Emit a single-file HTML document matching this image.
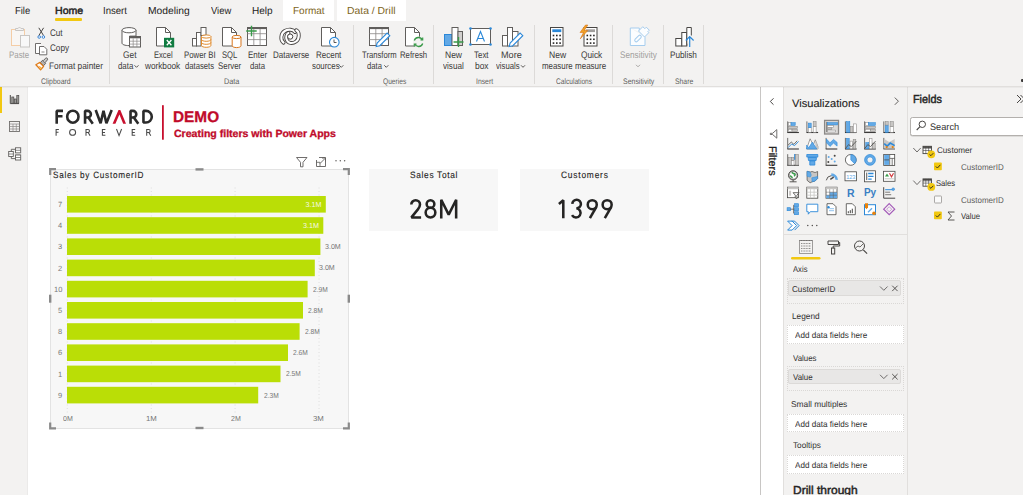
<!DOCTYPE html><html><head><meta charset="utf-8"><style>
*{margin:0;padding:0;box-sizing:border-box}
html,body{width:1023px;height:495px;overflow:hidden;background:#f3f2f1;font-family:"Liberation Sans",sans-serif}
.a{position:absolute}
.t{position:absolute;white-space:nowrap;transform-origin:0 0;font-family:"Liberation Sans",sans-serif;text-rendering:geometricPrecision}
svg{position:absolute;left:0;top:0}
.md{-webkit-text-stroke:0.12px currentColor}
.sb{-webkit-text-stroke:0.45px currentColor}
.md3{-webkit-text-stroke:0.3px currentColor}
</style></head><body><div class="a" style="left:283px;top:0px;width:51px;height:21px;background:#fff"></div><div class="a" style="left:337px;top:0px;width:68.5px;height:21px;background:#fff"></div><div class="a" style="left:55px;top:18px;width:27px;height:3px;background:#f2c811;border-radius:1px"></div><div class="a" style="left:109px;top:25px;width:1px;height:59px;background:#dcdad8"></div><div class="a" style="left:353px;top:25px;width:1px;height:59px;background:#dcdad8"></div><div class="a" style="left:433px;top:25px;width:1px;height:59px;background:#dcdad8"></div><div class="a" style="left:534px;top:25px;width:1px;height:59px;background:#dcdad8"></div><div class="a" style="left:612px;top:25px;width:1px;height:59px;background:#dcdad8"></div><div class="a" style="left:663px;top:25px;width:1px;height:59px;background:#dcdad8"></div><div class="a" style="left:703px;top:25px;width:1px;height:59px;background:#dcdad8"></div><div class="a" style="left:0px;top:86px;width:28px;height:409px;background:#f3f2f1"></div><div class="a" style="left:27px;top:87px;width:1px;height:408px;background:#ebeae9"></div><div class="a" style="left:0px;top:86px;width:2px;height:27px;background:#f2c811"></div><div class="a" style="left:28px;top:87px;width:732px;height:408px;background:#fff"></div><div class="a" style="left:760px;top:87px;width:1px;height:408px;background:#c8c6c4"></div><div class="a" style="left:761px;top:87px;width:22px;height:408px;background:#fff"></div><div class="a" style="left:783px;top:87px;width:124px;height:408px;background:#f3f2f1;border-left:1px solid #e1dfdd"></div><div class="a" style="left:907px;top:87px;width:116px;height:408px;background:#f3f2f1;border-left:1px solid #e1dfdd"></div><div class="a" style="left:0px;top:86px;width:1023px;height:1px;background:#e1dfdd"></div><div class="a" style="left:0px;top:87px;width:1023px;height:1px;background:rgba(0,0,0,0.035)"></div><div class="a" style="left:1020.5px;top:79.3px;width:3px;height:2.4px;background:#3b3a39;border-radius:1px"></div><div class="a" style="left:910.3px;top:117.2px;width:120px;height:18.5px;background:#fff;border:1px solid #b3b0ad;border-radius:2.5px;box-shadow:0 0.5px 0 #c8c6c4"></div><div class="a" style="left:50px;top:169px;width:299px;height:260px;background:#f7f7f7;border:1px solid #e3e3e3"></div><div class="a" style="left:369px;top:169px;width:129px;height:62px;background:#f7f7f7"></div><div class="a" style="left:520px;top:169px;width:129px;height:62px;background:#f7f7f7"></div><div class="a" style="left:786.5px;top:278px;width:117px;height:25.5px;border:1px dotted #dad8d6;background:#f3f2f1"></div><div class="a" style="left:788.3px;top:280.3px;width:112.7px;height:16.2px;background:#e8e7e6;border:1px solid #dcdad8;border-radius:2px"></div><div class="a" style="left:786.5px;top:325.3px;width:117px;height:19.2px;border:1px dotted #dad8d6;background:#fff"></div><div class="a" style="left:786.5px;top:366px;width:117px;height:25px;border:1px dotted #dad8d6;background:#f3f2f1"></div><div class="a" style="left:788.3px;top:369.3px;width:112.7px;height:15.1px;background:#e8e7e6;border:1px solid #dcdad8;border-radius:2px"></div><div class="a" style="left:786.5px;top:413.8px;width:117px;height:18.6px;border:1px dotted #dad8d6;background:#fff"></div><div class="a" style="left:786.5px;top:454.7px;width:117px;height:19.1px;border:1px dotted #dad8d6;background:#fff"></div><svg width="1023" height="495" viewBox="0 0 1023 495"><rect x="11.5" y="29.5" width="13" height="16" fill="#f8f6f4" stroke="#f4cda6"/><path d="M15.5 30.5 v-2 h2.5 a1.6 1.6 0 0 1 3 0 h2.5 v2 z" fill="#f3f2f1" stroke="#c8c6c4"/><rect x="20.5" y="35.5" width="9" height="11.5" fill="#f8f8f8" stroke="#c8c6c4"/><path d="M38.8 27.8 L43.6 35.6 M43.6 27.8 L38.8 35.6" stroke="#484644" stroke-width="1"/><circle cx="39.2" cy="37" r="1.3" fill="#fff" stroke="#2b7cd3" stroke-width="0.9"/><circle cx="43.4" cy="37" r="1.3" fill="#fff" stroke="#2b7cd3" stroke-width="0.9"/><path d="M41 43.5 h-5.5 v10 h4" fill="#fff" stroke="#605e5c" stroke-width="0.9"/><path d="M39.5 46.5 h4.5 l2.8 2.8 v5.5 h-7.3z" fill="#fff" stroke="#605e5c" stroke-width="0.9"/><path d="M41.5 52 h3" stroke="#8a8886"/><path d="M40.2 62.6 L42.6 60.3 L45.6 63.4 L43.5 65.8 Z" fill="#b3b0ad" stroke="#484644" stroke-width="0.8"/><path d="M43.2 60.6 L45.6 58.3 A1.2 1.2 0 0 1 47.3 60.0 L45.1 62.7" fill="#c8c6c4" stroke="#484644" stroke-width="0.8"/><path d="M35.9 64.8 L39.6 62.5 L43.6 66.4 L40.6 69.8 Z" fill="#fff" stroke="#e07b18" stroke-width="1.3" stroke-linejoin="round"/><path d="M38.2 65.5 L41.6 67.2 L40.4 68.8 Z" fill="#f3a64a"/><circle cx="40.5" cy="68.4" r="0.8" fill="#f7c948"/><path d="M122 30.2 v12.8 c0 1.6 3 2.6 7 2.6 h0.5 v-9.5 h6.5 v-5.9" fill="#fff" stroke="#605e5c"/><ellipse cx="129" cy="30.2" rx="7" ry="2.6" fill="#fff" stroke="#605e5c"/><rect x="129.5" y="36.5" width="11" height="10.5" fill="#fff" stroke="#605e5c"/><rect x="129.5" y="36.5" width="11" height="1.8" fill="#605e5c"/><path d="M133.2 38.3 v8.7 M136.9 38.3 v8.7 M129.5 41.2 h11 M129.5 44.1 h11" stroke="#8a8886" stroke-width="0.7"/><path d="M156.5 27.5 h9 l5 5 v13.5 h-14z" fill="#fff" stroke="#605e5c"/><path d="M165.5 27.5 v5 h5" fill="none" stroke="#605e5c"/><rect x="164" y="37.8" width="10.2" height="9.6" fill="#107c41"/><path d="M166.8 40 l4.6 5.2 M171.4 40 l-4.6 5.2" stroke="#fff" stroke-width="1.3"/><rect x="192.5" y="38.5" width="4" height="7.5" fill="#fff" stroke="#605e5c"/><rect x="196.5" y="32.5" width="4.5" height="13.5" fill="#fff" stroke="#605e5c"/><rect x="201" y="27.5" width="5" height="8" fill="#fff" stroke="#605e5c"/><path d="M201.5 36.5 v9 c0 1 2 1.8 4.7 1.8 s4.7 -0.8 4.7 -1.8 v-9" fill="#fff" stroke="#e08a2c"/><ellipse cx="206.2" cy="36.5" rx="4.7" ry="1.6" fill="#fff" stroke="#e08a2c"/><path d="M201.5 39.5 c0 1 2 1.8 4.7 1.8 s4.7 -0.8 4.7 -1.8 M201.5 42.5 c0 1 2 1.8 4.7 1.8 s4.7 -0.8 4.7 -1.8" fill="none" stroke="#e08a2c"/><path d="M222.5 27.5 h9 l5 5 v13.5 h-14z" fill="#fff" stroke="#605e5c"/><path d="M231.5 27.5 v5 h5" fill="none" stroke="#605e5c"/><path d="M232.2 37 v8.8 c0 1 2 1.8 4.4 1.8 s4.4 -0.8 4.4 -1.8 v-8.8" fill="#fff" stroke="#d9761c"/><ellipse cx="236.6" cy="37" rx="4.4" ry="1.6" fill="#fff" stroke="#d9761c"/><rect x="247.5" y="27.5" width="19" height="18" fill="#fff" stroke="#605e5c"/><rect x="247.5" y="27.5" width="19" height="1.6" fill="#605e5c"/><path d="M253.8 29 v16.5 M260.1 29 v16.5 M247.5 33.7 h19 M247.5 39.6 h19" stroke="#8a8886" stroke-width="0.8"/><path d="M246.2 31 h10.5 M251.5 25.8 v10.5" stroke="#3a9a4a" stroke-width="1.4"/><path d="M283.6 42.6 C280.2 40 280.6 33.6 284.8 31 C288.5 28.8 293 29.5 295 32" fill="none" stroke="#484644" stroke-width="3.9" stroke-linecap="round"/><path d="M283.6 42.6 C280.2 40 280.6 33.6 284.8 31 C288.5 28.8 293 29.5 295 32" fill="none" stroke="#fff" stroke-width="2.1" stroke-linecap="round"/><path d="M296.3 30.3 C299.8 32 299.5 39 296 41.5 C292.5 44 287.8 43.5 286.6 39.5 C285.8 37 286.5 34 288.5 33" fill="none" stroke="#484644" stroke-width="3.9" stroke-linecap="round"/><path d="M296.3 30.3 C299.8 32 299.5 39 296 41.5 C292.5 44 287.8 43.5 286.6 39.5 C285.8 37 286.5 34 288.5 33" fill="none" stroke="#fff" stroke-width="2.1" stroke-linecap="round"/><circle cx="290.2" cy="36.6" r="2.6" fill="#fff" stroke="#484644" stroke-width="1"/><path d="M321.5 27.5 h9 l5 5 v13.5 h-14z" fill="#fff" stroke="#605e5c"/><path d="M330.5 27.5 v5 h5" fill="none" stroke="#605e5c"/><circle cx="334.3" cy="42.2" r="4.8" fill="#fff" stroke="#2b88d8" stroke-width="1.1"/><path d="M334 39.5 v3 h2.5" fill="none" stroke="#484644" stroke-width="0.9"/><rect x="369.5" y="27.5" width="19" height="18" fill="#fff" stroke="#605e5c"/><rect x="369.5" y="27.5" width="19" height="1.6" fill="#605e5c"/><path d="M375.8 29 v16.5 M382.1 29 v16.5 M369.5 33.7 h19 M369.5 39.6 h19" stroke="#8a8886" stroke-width="0.8"/><path d="M376.2 46.6 l0.9 -3.6 l10 -10 l2.7 2.7 l-10 10 z" fill="#fff" stroke="#2b88d8" stroke-width="1.1"/><path d="M405.5 27.5 h9 l5 5 v13.5 h-14z" fill="#fff" stroke="#605e5c"/><path d="M414.5 27.5 v5 h5" fill="none" stroke="#605e5c"/><circle cx="418.5" cy="42" r="5.5" fill="#f3f2f1" stroke="none"/><path d="M414.3 40.5 a4.3 4.3 0 0 1 8 -0.5 M422.7 43.5 a4.3 4.3 0 0 1 -8 0.5" fill="none" stroke="#3a9a4a" stroke-width="1.3"/><path d="M420.5 39.8 h2.2 v-2.2 M416.5 44.2 h-2.2 v2.2" fill="none" stroke="#3a9a4a" stroke-width="1.2"/><rect x="444.5" y="34.5" width="7.5" height="11" fill="#62a9e6" stroke="#2b88d8"/><rect x="452" y="27.5" width="6" height="18" fill="#fff" stroke="#605e5c"/><rect x="458" y="31.5" width="4.5" height="14" fill="#d2d0ce" stroke="#605e5c"/><path d="M453.5 42 h10 M458.5 37 v10" stroke="#3a9a4a" stroke-width="1.4"/><rect x="470.5" y="28.5" width="20" height="16" fill="#fff" stroke="#605e5c"/><circle cx="470.5" cy="28.5" r="1.3" fill="#2b88d8"/><circle cx="490.5" cy="28.5" r="1.3" fill="#2b88d8"/><circle cx="470.5" cy="44.5" r="1.3" fill="#2b88d8"/><circle cx="490.5" cy="44.5" r="1.3" fill="#2b88d8"/><path d="M476.5 41.5 l4 -10 l4 10 M477.8 38.5 h5.4" fill="none" stroke="#2b88d8" stroke-width="1.1"/><rect x="502.5" y="35.5" width="5" height="10.5" fill="#fff" stroke="#605e5c"/><rect x="507.5" y="27.5" width="5" height="18.5" fill="#fff" stroke="#605e5c"/><rect x="512.5" y="31.5" width="5.5" height="14.5" fill="#fff" stroke="#605e5c"/><path d="M509.2 46.6 l0.9 -3.6 l10 -10 l2.7 2.7 l-10 10 z" fill="#fff" stroke="#2b88d8" stroke-width="1.1"/><rect x="550.5" y="27.5" width="12.5" height="18.5" fill="#fff" stroke="#484644"/><rect x="552.3" y="29.3" width="9" height="2.8" fill="#2b88d8"/><rect x="552.7" y="34.7" width="1.6" height="1.6" fill="#252423"/><rect x="556.0" y="34.7" width="1.6" height="1.6" fill="#252423"/><rect x="559.3000000000001" y="34.7" width="1.6" height="1.6" fill="#252423"/><rect x="552.7" y="38.5" width="1.6" height="1.6" fill="#252423"/><rect x="556.0" y="38.5" width="1.6" height="1.6" fill="#252423"/><rect x="559.3000000000001" y="38.5" width="1.6" height="1.6" fill="#252423"/><rect x="552.7" y="42.300000000000004" width="1.6" height="1.6" fill="#252423"/><rect x="556.0" y="42.300000000000004" width="1.6" height="1.6" fill="#252423"/><rect x="559.3000000000001" y="42.300000000000004" width="1.6" height="1.6" fill="#252423"/><rect x="584" y="27.5" width="13" height="18.5" fill="#fff" stroke="#484644"/><rect x="586" y="29.3" width="9" height="2.8" fill="#a19f9d"/><rect x="586.5" y="34.7" width="1.6" height="1.6" fill="#252423"/><rect x="589.8000000000001" y="34.7" width="1.6" height="1.6" fill="#252423"/><rect x="593.1" y="34.7" width="1.6" height="1.6" fill="#252423"/><rect x="586.5" y="38.5" width="1.6" height="1.6" fill="#252423"/><rect x="589.8000000000001" y="38.5" width="1.6" height="1.6" fill="#252423"/><rect x="593.1" y="38.5" width="1.6" height="1.6" fill="#252423"/><rect x="586.5" y="42.300000000000004" width="1.6" height="1.6" fill="#252423"/><rect x="589.8000000000001" y="42.300000000000004" width="1.6" height="1.6" fill="#252423"/><rect x="593.1" y="42.300000000000004" width="1.6" height="1.6" fill="#252423"/><path d="M585.5 25 l-5.5 7.5 h3.5 l-3.2 6.3 l7.5 -8.3 h-3.5 l3.5 -5.5 z" fill="#f2a125" stroke="#d9761c" stroke-width="0.6"/><path d="M630.3 28 h9 v4 M645 37 v8.5 h-14.7 v-17.5" fill="#fbfdff" stroke="#a6cdee"/><rect x="634" y="37" width="8" height="3" rx="1.5" transform="rotate(-45 638 38.5)" fill="none" stroke="#a6cdee"/><path d="M638.5 31 l4.3-4.3 l2 2 l1.5-1.5 l3 3 l-1.5 1.5 l1 1 l-4.3 4.3 z" fill="#fbfdff" stroke="#a6cdee"/><rect x="675.8" y="38.5" width="6" height="7.5" fill="#fff" stroke="#484644"/><rect x="681.8" y="32.5" width="5" height="13.5" fill="#fff" stroke="#484644"/><path d="M686.8 45.5 v-18 h4.5 v8" fill="#fff" stroke="#484644"/><path d="M689.7 47 V36.8 M685.8 40.5 L689.7 36.6 L693.6 40.5" fill="none" stroke="#2b88d8" stroke-width="1.2"/><path d="M134.5 65.3 l2 2 l2 -2" fill="none" stroke="#484644" stroke-width="0.9"/><path d="M339.3 65.3 l2 2 l2 -2" fill="none" stroke="#484644" stroke-width="0.9"/><path d="M384.3 65.3 l2 2 l2 -2" fill="none" stroke="#484644" stroke-width="0.9"/><path d="M521 65.3 l2 2 l2 -2" fill="none" stroke="#484644" stroke-width="0.9"/><path d="M636 64.8 l2 2 l2 -2" fill="none" stroke="#a19f9d" stroke-width="0.9"/><path d="M10.3 95 V103.6 H19" fill="none" stroke="#484644" stroke-width="1"/><rect x="11.8" y="97" width="2" height="6.2" fill="#a19f9d" stroke="#484644" stroke-width="0.7"/><rect x="14.3" y="99" width="2" height="4.2" fill="#a19f9d" stroke="#484644" stroke-width="0.7"/><rect x="16.8" y="95.6" width="2" height="7.6" fill="#a19f9d" stroke="#484644" stroke-width="0.7"/><rect x="9.5" y="121.5" width="10" height="10" fill="none" stroke="#6f6d6b" stroke-width="0.9"/><path d="M9.5 124 h10 M9.5 126.5 h10 M9.5 129 h10 M13 124 v7.5 M16.3 124 v7.5" stroke="#8a8886" stroke-width="0.7"/><rect x="8.7" y="151.5" width="4.6" height="5" fill="#fff" stroke="#605e5c" stroke-width="0.9"/><path d="M8.7 154 h4.6" stroke="#605e5c" stroke-width="0.7"/><path d="M11.3 151.5 V149.3 H15.3 M11.3 156.5 V158.6 H15.3" fill="none" stroke="#605e5c" stroke-width="0.9"/><rect x="15.5" y="147.8" width="5.2" height="5" fill="#fff" stroke="#605e5c" stroke-width="0.9"/><path d="M15.5 150.3 h5.2" stroke="#605e5c" stroke-width="0.7"/><rect x="15.5" y="152.8" width="5.2" height="2.2" fill="#c8c6c4"/><rect x="15.5" y="155" width="5.2" height="5" fill="#fff" stroke="#605e5c" stroke-width="0.9"/><path d="M15.5 157.5 h5.2" stroke="#605e5c" stroke-width="0.7"/><rect x="824.6" y="120.4" width="13.9" height="13.6" fill="#dcdad8" stroke="#8a8886" stroke-width="1.3"/><g transform="translate(787.1 121.1)"><path d="M0.6 0.3 V11.4" stroke="#605e5c" stroke-width="0.9"/><path d="M0.2 11.4 H11.8" stroke="#3b3a39" stroke-width="1.1"/><rect x="1.3" y="1.6" width="2.6" height="2.8" fill="#ffffff" stroke="#8a8886" stroke-width="0.55"/><rect x="3.9" y="1.6" width="4.2" height="2.8" fill="#62a9e6" stroke="#2b88d8" stroke-width="0.55"/><rect x="1.3" y="5.2" width="8.9" height="2.4" fill="#c8c6c4" stroke="#8a8886" stroke-width="0.55"/><rect x="1.3" y="8.3" width="3.6" height="2.3" fill="#ffffff" stroke="#8a8886" stroke-width="0.55"/><rect x="4.9" y="8.3" width="5.3" height="2.3" fill="#c8c6c4" stroke="#8a8886" stroke-width="0.55"/></g><g transform="translate(806.3 121.1)"><path d="M0.6 0.3 V11.4" stroke="#605e5c" stroke-width="0.9"/><path d="M0.2 11.4 H11.8" stroke="#3b3a39" stroke-width="1.1"/><rect x="2.0" y="6.6" width="2.9" height="4.6" fill="#ffffff" stroke="#8a8886" stroke-width="0.55"/><rect x="2.0" y="2.0" width="2.9" height="4.6" fill="#62a9e6" stroke="#2b88d8" stroke-width="0.55"/><rect x="6.9" y="5.2" width="2.9" height="6.0" fill="#ffffff" stroke="#8a8886" stroke-width="0.55"/><rect x="6.9" y="0.6" width="2.9" height="4.6" fill="#c8c6c4" stroke="#8a8886" stroke-width="0.55"/></g><g transform="translate(825.5 121.1)"><path d="M1.2 0.8 V11" stroke="#605e5c" stroke-width="0.8"/><rect x="1.8" y="1.6" width="10.3" height="2.2" fill="#62a9e6" stroke="#2b88d8" stroke-width="0.55"/><rect x="1.8" y="4.5" width="6" height="2.0" fill="#ffffff" stroke="#8a8886" stroke-width="0.55"/><rect x="1.8" y="6.8" width="4.5" height="1.8" fill="#c8c6c4" stroke="#8a8886" stroke-width="0.55"/><rect x="1.8" y="9.0" width="8" height="1.9" fill="#ffffff" stroke="#8a8886" stroke-width="0.55"/></g><g transform="translate(844.8 121.1)"><path d="M0.6 0.3 V11.4" stroke="#605e5c" stroke-width="0.9"/><path d="M0.2 11.4 H11.8" stroke="#3b3a39" stroke-width="1.1"/><rect x="1.8" y="0.6" width="3.2" height="10.6" fill="#62a9e6" stroke="#2b88d8" stroke-width="0.55"/><rect x="5.6" y="5.5" width="2.5" height="5.7" fill="#c8c6c4" stroke="#8a8886" stroke-width="0.55"/><rect x="8.8" y="2.8" width="2.8" height="8.4" fill="#ffffff" stroke="#8a8886" stroke-width="0.55"/></g><g transform="translate(864.0 121.1)"><path d="M0.6 0.3 V11.4" stroke="#605e5c" stroke-width="0.9"/><path d="M0.2 11.4 H11.8" stroke="#3b3a39" stroke-width="1.1"/><rect x="1.3" y="1.6" width="3.2" height="2.8" fill="#ffffff" stroke="#8a8886" stroke-width="0.55"/><rect x="4.5" y="1.6" width="6.8" height="2.8" fill="#62a9e6" stroke="#2b88d8" stroke-width="0.55"/><rect x="1.3" y="5.2" width="10" height="2.4" fill="#c8c6c4" stroke="#8a8886" stroke-width="0.55"/><rect x="1.3" y="8.3" width="5" height="2.3" fill="#ffffff" stroke="#8a8886" stroke-width="0.55"/><rect x="6.3" y="8.3" width="5" height="2.3" fill="#c8c6c4" stroke="#8a8886" stroke-width="0.55"/></g><g transform="translate(883.2 121.1)"><path d="M0.6 0.3 V11.4" stroke="#605e5c" stroke-width="0.9"/><path d="M0.2 11.4 H11.8" stroke="#3b3a39" stroke-width="1.1"/><rect x="2.0" y="4.0" width="3.0" height="7.2" fill="#62a9e6" stroke="#2b88d8" stroke-width="0.55"/><rect x="2.0" y="0.6" width="3.0" height="3.4" fill="#c8c6c4" stroke="#8a8886" stroke-width="0.55"/><rect x="6.9" y="5.5" width="3.2" height="5.7" fill="#ffffff" stroke="#8a8886" stroke-width="0.55"/><rect x="6.9" y="0.6" width="3.2" height="4.9" fill="#c8c6c4" stroke="#8a8886" stroke-width="0.55"/></g><g transform="translate(787.1 137.6)"><path d="M0.6 0.3 V11.4" stroke="#605e5c" stroke-width="0.9"/><path d="M0.2 11.4 H11.8" stroke="#3b3a39" stroke-width="1.1"/><path d="M1 7.5 L4.2 4.5 L6.8 6.8 L10 3.2" fill="none" stroke="#484644" stroke-width="0.8"/><path d="M1 10 L4.5 6.5 L7.5 8 L11.5 3.8" fill="none" stroke="#2b88d8" stroke-width="0.9"/></g><g transform="translate(806.3 137.6)"><path d="M0.3 11.4 L3.8 1.2 L7 7.5 L9 2.2 L11.6 9 V11.4z" fill="#fff" stroke="#605e5c" stroke-width="0.6"/><path d="M9 2.2 L11.6 9 V11.4 H9z" fill="#c8c6c4"/><path d="M0.3 7.5 L2.5 10 L6 4.5 L10.5 11.4 H0.3z" fill="#62a9e6" stroke="#2b88d8" stroke-width="0.6"/></g><g transform="translate(825.5 137.6)"><path d="M0.6 0.3 V11.4" stroke="#605e5c" stroke-width="0.9"/><path d="M0.2 11.4 H11.8" stroke="#3b3a39" stroke-width="1.1"/><path d="M1 1.5 L4.5 5.2 L8 1.8 L11.6 4.8 V8.5 L8 5.5 L4.5 8.8 L1 5.2z" fill="#62a9e6" stroke="#2b88d8" stroke-width="0.6"/></g><g transform="translate(844.8 137.6)"><path d="M0.6 0.3 V11.4" stroke="#605e5c" stroke-width="0.9"/><path d="M0.2 11.4 H11.8" stroke="#3b3a39" stroke-width="1.1"/><rect x="1.8" y="0.8" width="2.6" height="10.4" fill="#62a9e6" stroke="#2b88d8" stroke-width="0.55"/><rect x="5.2" y="3.5" width="2.4" height="7.7" fill="#ffffff" stroke="#8a8886" stroke-width="0.55"/><rect x="8.4" y="2.0" width="2.6" height="9.2" fill="#c8c6c4" stroke="#8a8886" stroke-width="0.55"/><path d="M1 10.5 L3.8 7 L6.5 9 L11.6 3.5" fill="none" stroke="#484644" stroke-width="0.8"/></g><g transform="translate(864.0 137.6)"><path d="M0.6 0.3 V11.4" stroke="#605e5c" stroke-width="0.9"/><path d="M0.2 11.4 H11.8" stroke="#3b3a39" stroke-width="1.1"/><rect x="1.8" y="5.0" width="3" height="6.2" fill="#62a9e6" stroke="#2b88d8" stroke-width="0.55"/><rect x="5.4" y="0.8" width="2.6" height="10.4" fill="#ffffff" stroke="#8a8886" stroke-width="0.55"/><rect x="8.6" y="5.5" width="2.6" height="5.7" fill="#c8c6c4" stroke="#8a8886" stroke-width="0.55"/><path d="M1 10.5 L3.8 7 L6.5 9 L11.6 3.5" fill="none" stroke="#484644" stroke-width="0.8"/></g><g transform="translate(883.2 137.6)"><path d="M0.6 0.3 V11.4" stroke="#605e5c" stroke-width="0.9"/><path d="M0.2 11.4 H11.8" stroke="#605e5c" stroke-width="1.1"/><path d="M1 1.5 L6 4.5 L11.5 1.5 V10.5 H1z" fill="#c8c6c4"/><path d="M1 6 L4 8.5 L7 5.5 L11.5 8" fill="none" stroke="#2b88d8" stroke-width="1.6"/><circle cx="3.5" cy="9.5" r="1.1" fill="#e8820c"/><circle cx="9.5" cy="9.5" r="1.1" fill="#e8820c"/></g><g transform="translate(787.1 153.9)"><path d="M0.6 0.3 V11.4" stroke="#605e5c" stroke-width="0.9"/><path d="M0.2 11.4 H11.8" stroke="#3b3a39" stroke-width="1.1"/><rect x="1.5" y="3.5" width="2.8" height="7.7" fill="#c8c6c4" stroke="#8a8886" stroke-width="0.55"/><rect x="4.3" y="6.5" width="2.6" height="4.7" fill="#ffffff" stroke="#8a8886" stroke-width="0.55"/><rect x="4.3" y="3.5" width="2.6" height="3.0" fill="#c8c6c4" stroke="#8a8886" stroke-width="0.55"/><rect x="7.3" y="0.6" width="1.0" height="5" fill="#2b88d8" stroke="#2b88d8" stroke-width="0.55"/><rect x="8.3" y="0.6" width="3" height="10.6" fill="#c8c6c4" stroke="#8a8886" stroke-width="0.55"/></g><g transform="translate(806.3 153.9)"><path d="M0.5 0.6 h11 v2.6 h-11z M1.8 3.6 h8.4 l-0.4 3 h-7.6z M3.5 7 h5 v4.2 h-5z" fill="#62a9e6" stroke="#2b88d8" stroke-width="0.8"/></g><g transform="translate(825.5 153.9)"><path d="M0.6 0.3 V11.4" stroke="#605e5c" stroke-width="0.9"/><path d="M0.2 11.4 H11.8" stroke="#3b3a39" stroke-width="1.1"/><circle cx="2.8" cy="8.2" r="1.0" fill="#484644"/><circle cx="3.2" cy="3" r="1.0" fill="#62a9e6"/><circle cx="6.2" cy="5.2" r="1.0" fill="#62a9e6"/><circle cx="9.2" cy="7.6" r="1.0" fill="#62a9e6"/><circle cx="9.2" cy="1.8" r="1.0" fill="#484644"/></g><g transform="translate(844.8 153.9)"><circle cx="6" cy="6" r="5.4" fill="#fff" stroke="#484644" stroke-width="0.8"/><path d="M6 0.6 A5.4 5.4 0 0 1 9.8 9.8 L6 6z" fill="#62a9e6" stroke="#2b88d8" stroke-width="0.6"/></g><g transform="translate(864.0 153.9)"><circle cx="6" cy="6" r="4.2" fill="none" stroke="#62a9e6" stroke-width="2.4"/><circle cx="6" cy="6" r="5.4" fill="none" stroke="#2b88d8" stroke-width="0.7"/><circle cx="6" cy="6" r="3" fill="none" stroke="#2b88d8" stroke-width="0.6"/></g><g transform="translate(883.2 153.9)"><rect x="0.5" y="0.5" width="11" height="11" fill="#fff" stroke="#484644" stroke-width="0.8"/><rect x="1" y="1" width="5" height="10" fill="#62a9e6"/><path d="M1 6 h5 M6.5 1 v10 M6.5 4.5 h5 M9 4.5 v7" stroke="#484644" stroke-width="0.7"/></g><g transform="translate(787.1 170.3)"><circle cx="6" cy="5" r="4.6" fill="#b0aeac" stroke="#484644" stroke-width="0.9"/><circle cx="6" cy="5" r="3.2" fill="#fff"/><path d="M4.5 2.2 c1.5 0.2 1.8 1.5 2.8 1.3 s1 1.8 -0.5 2.2 M3 5.5 c1 0.3 1.5 1.5 2.5 2" fill="none" stroke="#3a9a4a" stroke-width="1.5"/><path d="M2.5 11.5 h7 M6 9.6 v1.9" stroke="#484644" stroke-width="0.9"/></g><g transform="translate(806.3 170.3)"><path d="M0.8 1 l3 0.8 l2 -0.6 l3 1 l2.5 -1 v7 l-2.5 2.5 l-3 0.8 l-2 1 l-3 -2.5z" fill="#c8c6c4" stroke="#484644" stroke-width="0.7"/><path d="M0.8 1 l3 0.8 l1.2 3 l-1 2 l-3.2 -0.8z M5.5 7.5 l5.8 -1.3 v2 l-2.5 2.5 l-3 0.8z" fill="#62a9e6" stroke="#2b88d8" stroke-width="0.5"/></g><g transform="translate(825.5 170.3)"><path d="M0.8 10 A5.5 5.5 0 0 1 11.4 9" fill="none" stroke="#484644" stroke-width="0.9"/><path d="M5.8 4.3 A5.5 5.5 0 0 1 11.2 9.5" fill="none" stroke="#62a9e6" stroke-width="2.6"/><path d="M4.8 9 L8.2 6.8" stroke="#484644" stroke-width="1.4"/></g><g transform="translate(844.8 170.3)"><rect x="0.2" y="1.5" width="11.6" height="9" fill="#fff" stroke="#484644" stroke-width="0.8"/><text x="6" y="8.6" font-size="5.6" font-family="Liberation Sans" text-anchor="middle" fill="#62a9e6">123</text></g><g transform="translate(864.0 170.3)"><rect x="0.5" y="0.5" width="11" height="11" fill="#fff" stroke="#484644" stroke-width="0.8"/><rect x="2.3" y="2.3" width="0.9" height="7.5" fill="#484644"/><path d="M4.2 3.2 h5.3 M4.2 6 h5.3 M4.2 8.8 h3.5" stroke="#2b88d8" stroke-width="1.3"/></g><g transform="translate(883.2 170.3)"><rect x="0.2" y="1" width="11.6" height="10" fill="#fff" stroke="#484644" stroke-width="0.8"/><path d="M1.8 6.2 l2 -3 l2 3z" fill="#3a9a4a"/><path d="M6.3 3 l2 3.5 l2 -3.5" fill="none" stroke="#d13438" stroke-width="1.1"/><path d="M1.5 8.5 h9" stroke="#c8c6c4"/></g><g transform="translate(787.1 186.7)"><rect x="0.5" y="0.5" width="11" height="10.5" fill="#fff" stroke="#484644" stroke-width="0.8"/><rect x="0.5" y="0.5" width="11" height="2" fill="#c8c6c4"/><rect x="2" y="4" width="2" height="5" fill="#c8c6c4"/><path d="M6 6 h6 l-2.2 2.5 v3.5 l-1.6 -0.8 v-2.7z" fill="#fff" stroke="#484644" stroke-width="0.8"/></g><g transform="translate(806.3 186.7)"><rect x="0.5" y="0.5" width="11" height="11" fill="#fff" stroke="#484644" stroke-width="0.8"/><rect x="0.5" y="0.5" width="11" height="2" fill="#c8c6c4"/><path d="M4.2 2.5 v9 M7.8 2.5 v9 M0.5 5.5 h11 M0.5 8.5 h11" stroke="#c8c6c4" stroke-width="0.8"/></g><g transform="translate(825.5 186.7)"><rect x="0.5" y="0.5" width="11" height="11" fill="#fff" stroke="#484644" stroke-width="0.8"/><rect x="0.5" y="0.5" width="11" height="2" fill="#c8c6c4"/><rect x="4.2" y="5.5" width="7.3" height="6" fill="#62a9e6"/><rect x="0.8" y="8.5" width="3.4" height="3" fill="#62a9e6"/><path d="M4.2 2.5 v9 M7.8 2.5 v9 M0.5 5.5 h11 M0.5 8.5 h11" stroke="#605e5c" stroke-width="0.5"/></g><g transform="translate(844.8 186.7)"><text x="6" y="10.5" font-size="10.5" font-weight="700" font-family="Liberation Sans" text-anchor="middle" fill="#3a7fc4">R</text></g><g transform="translate(864.0 186.7)"><text x="6" y="9.5" font-size="10" font-weight="700" font-family="Liberation Sans" text-anchor="middle" fill="#3a7fc4">Py</text></g><g transform="translate(883.2 186.7)"><path d="M0.5 0.5 V11.5 H12" fill="none" stroke="#484644"/><path d="M2 3 h7" stroke="#2b88d8"/><circle cx="10" cy="2.5" r="1.3" fill="#62a9e6" stroke="#2b88d8" stroke-width="0.6"/><path d="M2 5.5 h5 M2 8 h6" stroke="#484644" stroke-width="0.7"/></g><g transform="translate(787.1 203.2)"><rect x="0" y="4.5" width="3.5" height="3" fill="#62a9e6" stroke="#2b88d8" stroke-width="0.6"/><path d="M3.5 6 h3 M6.5 2 v8 M6.5 2 h1 M6.5 6 h1 M6.5 10 h1" stroke="#484644" stroke-width="0.7"/><rect x="7.5" y="0.5" width="4" height="3" fill="#62a9e6" stroke="#2b88d8" stroke-width="0.6"/><rect x="7.5" y="4.5" width="4" height="3" fill="#62a9e6" stroke="#2b88d8" stroke-width="0.6"/><rect x="7.5" y="8.5" width="4" height="3" fill="#62a9e6" stroke="#2b88d8" stroke-width="0.6"/></g><g transform="translate(806.3 203.2)"><path d="M0.5 1 h11 v7.5 h-7.5 l-2 2.5 v-2.5 h-1.5z" fill="#fff" stroke="#2b88d8" stroke-width="0.9"/></g><g transform="translate(825.5 203.2)"><path d="M1.5 0.5 h6 l3 3 v8 h-9z" fill="#fff" stroke="#484644" stroke-width="0.8"/><circle cx="3" cy="4" r="1.2" fill="#2b88d8"/><path d="M4 5.5 h4.5 M3.5 7.5 h5" stroke="#62a9e6" stroke-width="0.7"/></g><g transform="translate(844.8 203.2)"><path d="M1.5 0.5 h6 l3 3 v8 h-9z" fill="#fff" stroke="#484644" stroke-width="0.8"/><path d="M3.5 10 v-2 M5.5 10 v-3 M7.5 10 v-4.5" stroke="#484644" stroke-width="1"/></g><g transform="translate(864.0 203.2)"><rect x="0.5" y="1.5" width="11" height="10" fill="#fff" stroke="#2b88d8" stroke-width="1"/><path d="M1 0 h3 v4 l-1.5 2 l-1.5 -2z" fill="#e8820c"/><circle cx="10" cy="10" r="1.8" fill="#e8820c"/><path d="M4 9 l4 -4" stroke="#62a9e6" stroke-width="1.3"/></g><g transform="translate(883.2 203.2)"><path d="M6 0.5 L11.5 6 L6 11.5 L0.5 6z" fill="none" stroke="#a35ab8" stroke-width="1.2"/><path d="M6 3.5 L8.5 6 L6 8.5 L3.5 6z" fill="none" stroke="#c490d1" stroke-width="0.9"/></g><g transform="translate(787.1 219.6)"><path d="M0.5 1.5 h4.5 l4.5 4.5 l-4.5 4.5 h-4.5 l4.5 -4.5z" fill="#fff" stroke="#2b88d8" stroke-width="1"/><path d="M4.5 1.5 h3 l4.5 4.5 l-4.5 4.5" fill="none" stroke="#2b88d8" stroke-width="1"/></g><circle cx="807.8" cy="225.5" r="0.7" fill="#484644"/><circle cx="812.3" cy="225.5" r="0.7" fill="#484644"/><circle cx="816.8" cy="225.5" r="0.7" fill="#484644"/><path d="M784 234.5 H907" stroke="#e1dfdd"/><rect x="799.5" y="240.5" width="13" height="13" fill="none" stroke="#484644" stroke-dasharray="1 1"/><path d="M799.5 240.5 h13 M801 243.5 h10 M801 246 h10 M801 248.5 h10 M801 251 h10" stroke="#484644" stroke-width="0.6" stroke-dasharray="1 0.6"/><path d="M792.3 258.2 H819.2" stroke="#f2c811" stroke-width="2.6" stroke-linecap="round"/><path d="M828 241 h10.5 v3.5 h-10.5z M838.5 242.5 h1.2 v3.5 h-6.5 v2.5" fill="none" stroke="#484644" stroke-width="1"/><rect x="831.5" y="248" width="3.2" height="6" fill="none" stroke="#484644" stroke-width="1"/><circle cx="859.5" cy="246" r="5" fill="none" stroke="#484644" stroke-width="1"/><path d="M855.5 248 l2.5 -2 l2 1 l3 -3" fill="none" stroke="#484644" stroke-width="0.8"/><path d="M863.3 249.8 l3.8 3.8" stroke="#484644" stroke-width="1.2"/><path d="M773.5 98.3 l-3.2 3.2 l3.2 3.2" fill="none" stroke="#484644" stroke-width="1"/><path d="M776.8 129.6 V138.2 L772.6 134.5 H770.3 V133.3 H772.6 Z" fill="none" stroke="#605e5c" stroke-width="0.9" stroke-linejoin="round"/><path d="M894.8 97.6 l3.6 3.6 l-3.6 3.6" fill="none" stroke="#605e5c" stroke-width="1"/><path d="M1017 95 l4 4 l-4 4 M1020.5 95 l4 4 l-4 4" fill="none" stroke="#484644" stroke-width="1"/><circle cx="922.3" cy="124.3" r="3.2" fill="none" stroke="#484644" stroke-width="1"/><path d="M920 126.7 l-3.3 3.3" stroke="#484644" stroke-width="1.1"/><path d="M913.3 148 l3.7 4 l3.7 -4" fill="none" stroke="#605e5c" stroke-width="0.9"/><rect x="923" y="146.3" width="8.5" height="7.3" fill="#fff" stroke="#484644" stroke-width="0.9"/><path d="M923 148.3 h8.5 M923 150.5 h8.5 M925.8 146.3 v7.3 M928.6 146.3 v7.3" stroke="#484644" stroke-width="0.6"/><rect x="923" y="146.3" width="8.5" height="1.6" fill="#484644"/><circle cx="931.3" cy="154.3" r="3.9" fill="#f2c811"/><path d="M929.5 154.4 l1.4 1.3 l2.4 -2.5" fill="none" stroke="#252423" stroke-width="0.9"/><path d="M913.3 180.6 l3.7 4 l3.7 -4" fill="none" stroke="#605e5c" stroke-width="0.9"/><rect x="923" y="178.9" width="8.5" height="7.3" fill="#fff" stroke="#484644" stroke-width="0.9"/><path d="M923 180.9 h8.5 M923 183.1 h8.5 M925.8 178.9 v7.3 M928.6 178.9 v7.3" stroke="#484644" stroke-width="0.6"/><rect x="923" y="178.9" width="8.5" height="1.6" fill="#484644"/><circle cx="931.3" cy="186.9" r="3.9" fill="#f2c811"/><path d="M929.5 187.0 l1.4 1.3 l2.4 -2.5" fill="none" stroke="#252423" stroke-width="0.9"/><rect x="934" y="162.4" width="7.8" height="7.8" rx="0.8" fill="#f2c811"/><path d="M935.8 166.4 l1.6 1.6 l3 -3.2" fill="none" stroke="#252423" stroke-width="0.9"/><rect x="934.5" y="196.0" width="7" height="7" rx="0.6" fill="#fafafa" stroke="#a19f9d" stroke-width="0.9"/><rect x="934" y="211.5" width="7.8" height="7.8" rx="0.8" fill="#f2c811"/><path d="M935.8 215.5 l1.6 1.6 l3 -3.2" fill="none" stroke="#252423" stroke-width="0.9"/><path d="M954.5 212 h-6.5 l3.5 4 l-3.5 4 h6.5" fill="none" stroke="#484644" stroke-width="0.9"/><path d="M880 286.5 l3.8 3.8 l3.8 -3.8" fill="none" stroke="#605e5c" stroke-width="0.9"/><path d="M892.2 285.7 l5.4 5.4 M897.6 285.7 l-5.4 5.4" fill="none" stroke="#484644" stroke-width="0.9"/><path d="M880 374.8 l3.8 3.8 l3.8 -3.8" fill="none" stroke="#605e5c" stroke-width="0.9"/><path d="M892.2 374.0 l5.4 5.4 M897.6 374.0 l-5.4 5.4" fill="none" stroke="#484644" stroke-width="0.9"/><g fill="none" stroke="#2b2b2b" stroke-width="2.6" stroke-linejoin="bevel"><path d="M56.7 123.8 V110.9 H63 M56.7 116.3 H62.5"/><ellipse cx="72.85" cy="116.7" rx="5.65" ry="6.0"/><path d="M85.05 123.8 V110.9 H87.6 A3.3 3.3 0 0 1 87.6 117.5 H85.05 M88.4 117.5 L92.8 123.8"/><path d="M95.7 110.0 L100.6 123.2 L103.5 110.8 L106.4 123.2 L111.7 110.0"/><path d="M130.55 123.8 V110.9 H133 A3.3 3.3 0 0 1 133 117.5 H130.55 M133.8 117.5 L138.3 123.8"/><path d="M143.45 110.9 H146 A5.8 5.8 0 0 1 146 122.5 H143.45 Z"/></g><path d="M112.6 123.8 L118.5 109.9 H120.3 L126 123.8 H123.2 L119.4 114.5 L115.4 123.8 Z" fill="#c8102e"/><rect x="162" y="105.2" width="1.8" height="34.5" fill="#c8102e"/><g fill="none" stroke="#4a4a4a" stroke-width="1.05"><path d="M56.1 135.8 V129.5 H58.9 M56.1 132.3 H58.5"/><ellipse cx="72.6" cy="132.4" rx="3.0" ry="2.9"/><path d="M86 135.8 V129.5 H88 A1.5 1.45 0 0 1 88 132.4 H86 M88.2 132.4 L90.1 135.8"/><path d="M105.4 129.5 H102.4 V135.3 H105.4 M102.4 132.4 H105"/><path d="M116.5 129 L119.05 135.6 L121.6 129"/><path d="M135.2 129.5 H132.2 V135.3 H135.2 M132.2 132.4 H134.8"/><path d="M146.7 135.8 V129.5 H148.7 A1.5 1.45 0 0 1 148.7 132.4 H146.7 M148.9 132.4 L150.8 135.8"/></g><g fill="none" stroke="#252423" stroke-width="2.55" stroke-linejoin="miter" stroke-miterlimit="1.6"><path d="M411.3 204.6 A4.35 4.35 0 0 1 420.0 204.6 C420.0 206.6 419.2 207.8 417.9 209.4 L411.4 217.4 H421.1"/><circle cx="430.5" cy="204.0" r="3.85"/><circle cx="430.5" cy="212.6" r="4.85"/><path d="M441.25 218.5 V199.8 L448.7 214.6 L456.15 199.8 V218.5"/><path d="M558.9 203.9 L563.3 200.2 V218.3"/><path d="M572.3 203.9 A4.3 4.3 0 1 1 576.3 208.3 A4.6 4.6 0 1 1 572.0 215.2"/><circle cx="592.25" cy="204.7" r="4.5"/><path d="M596.4 206.8 L589.9 218.2"/><circle cx="607.15" cy="204.7" r="4.5"/><path d="M611.3 206.8 L604.8 218.2"/></g><path d="M296.5 157.5 h10.5 l-4 4.8 v4.5 l-2.5 0 v-4.5z" fill="none" stroke="#605e5c" stroke-width="0.9"/><path d="M316.5 160 v6.5 h9 v-9 h-6.5" fill="none" stroke="#605e5c" stroke-width="0.9"/><path d="M320 163.5 l5 -5 M322 158 h3.5 v3.5" fill="none" stroke="#605e5c" stroke-width="0.9"/><path d="M316.5 162.3 h3.5 v4" fill="none" stroke="#605e5c" stroke-width="0.8"/><circle cx="336" cy="160.8" r="0.75" fill="#605e5c"/><circle cx="340.3" cy="160.8" r="0.75" fill="#605e5c"/><circle cx="344.6" cy="160.8" r="0.75" fill="#605e5c"/><path d="M67.3 187.5 V412.5" stroke="#d8d8d8" stroke-width="0.8" stroke-dasharray="1 2.5"/><path d="M151.3 187.5 V412.5" stroke="#d8d8d8" stroke-width="0.8" stroke-dasharray="1 2.5"/><path d="M235.1 187.5 V412.5" stroke="#d8d8d8" stroke-width="0.8" stroke-dasharray="1 2.5"/><path d="M319.0 187.5 V412.5" stroke="#d8d8d8" stroke-width="0.8" stroke-dasharray="1 2.5"/><rect x="67" y="196.00" width="258.80" height="16.6" fill="#bade06"/><rect x="67" y="217.20" width="256.30" height="16.6" fill="#bade06"/><rect x="67" y="238.40" width="253.40" height="16.6" fill="#bade06"/><rect x="67" y="259.60" width="247.80" height="16.6" fill="#bade06"/><rect x="67" y="280.80" width="240.60" height="16.6" fill="#bade06"/><rect x="67" y="302.00" width="236.00" height="16.6" fill="#bade06"/><rect x="67" y="323.20" width="232.60" height="16.6" fill="#bade06"/><rect x="67" y="344.40" width="221.00" height="16.6" fill="#bade06"/><rect x="67" y="365.60" width="213.50" height="16.6" fill="#bade06"/><rect x="67" y="386.80" width="191.20" height="16.6" fill="#bade06"/><path d="M50.2 175 V169.2 H56" fill="none" stroke="#8a8a8a" stroke-width="2.2"/><path d="M343 169.2 H348.8 V175" fill="none" stroke="#8a8a8a" stroke-width="2.2"/><path d="M50.2 422.5 V428.3 H56" fill="none" stroke="#8a8a8a" stroke-width="2.2"/><path d="M343 428.3 H348.8 V422.5" fill="none" stroke="#8a8a8a" stroke-width="2.2"/><rect x="195.5" y="168.2" width="8" height="2.4" fill="#8a8a8a"/><rect x="195.5" y="426.8" width="8" height="2.4" fill="#8a8a8a"/><rect x="49" y="294.7" width="2.4" height="8" fill="#8a8a8a"/><rect x="347.6" y="294.7" width="2.4" height="8" fill="#8a8a8a"/></svg><div class="t " style="left:15.47px;top:7px;font-size:10.2px;line-height:10.2px;color:#252423;transform:scaleX(0.927);">File</div><div class="t sb" style="left:54.56px;top:7px;font-size:10.2px;line-height:10.2px;color:#252423;transform:scaleX(1.038);">Home</div><div class="t " style="left:102.76px;top:7px;font-size:10.2px;line-height:10.2px;color:#252423;transform:scaleX(0.940);">Insert</div><div class="t " style="left:148.09px;top:7px;font-size:10.2px;line-height:10.2px;color:#252423;transform:scaleX(1.012);">Modeling</div><div class="t " style="left:211.00px;top:7px;font-size:10.2px;line-height:10.2px;color:#252423;transform:scaleX(0.923);">View</div><div class="t " style="left:251.91px;top:7px;font-size:10.2px;line-height:10.2px;color:#252423;transform:scaleX(0.985);">Help</div><div class="t " style="left:292.92px;top:7px;font-size:10.2px;line-height:10.2px;color:#7d6422;transform:scaleX(0.981);">Format</div><div class="t " style="left:347.28px;top:7px;font-size:10.2px;line-height:10.2px;color:#7d6422;transform:scaleX(1.020);">Data / Drill</div><div class="t " style="left:9.47px;top:51px;font-size:9.5px;line-height:9.5px;color:#a19f9d;transform:scaleX(0.830);">Paste</div><div class="t " style="left:50.30px;top:29px;font-size:9.5px;line-height:9.5px;color:#3b3a39;transform:scaleX(0.853);">Cut</div><div class="t " style="left:50.30px;top:44px;font-size:9.5px;line-height:9.5px;color:#3b3a39;transform:scaleX(0.855);">Copy</div><div class="t " style="left:49.43px;top:62px;font-size:9.5px;line-height:9.5px;color:#3b3a39;transform:scaleX(0.874);">Format painter</div><div class="t " style="left:123.40px;top:51px;font-size:9.5px;line-height:9.5px;color:#3b3a39;transform:scaleX(0.880);">Get</div><div class="t " style="left:118.00px;top:62px;font-size:9.5px;line-height:9.5px;color:#3b3a39;transform:scaleX(0.826);">data</div><div class="t " style="left:153.70px;top:51px;font-size:9.5px;line-height:9.5px;color:#3b3a39;transform:scaleX(0.800);">Excel</div><div class="t " style="left:145.40px;top:62px;font-size:9.5px;line-height:9.5px;color:#3b3a39;transform:scaleX(0.866);">workbook</div><div class="t " style="left:183.68px;top:51px;font-size:9.5px;line-height:9.5px;color:#3b3a39;transform:scaleX(0.819);">Power BI</div><div class="t " style="left:185.20px;top:62px;font-size:9.5px;line-height:9.5px;color:#3b3a39;transform:scaleX(0.808);">datasets</div><div class="t " style="left:222.49px;top:51px;font-size:9.5px;line-height:9.5px;color:#3b3a39;transform:scaleX(0.806);">SQL</div><div class="t " style="left:218.47px;top:62px;font-size:9.5px;line-height:9.5px;color:#3b3a39;transform:scaleX(0.830);">Server</div><div class="t " style="left:247.76px;top:51px;font-size:9.5px;line-height:9.5px;color:#3b3a39;transform:scaleX(0.841);">Enter</div><div class="t " style="left:250.20px;top:62px;font-size:9.5px;line-height:9.5px;color:#3b3a39;transform:scaleX(0.816);">data</div><div class="t " style="left:272.56px;top:51px;font-size:9.5px;line-height:9.5px;color:#3b3a39;transform:scaleX(0.838);">Dataverse</div><div class="t " style="left:316.36px;top:51px;font-size:9.5px;line-height:9.5px;color:#3b3a39;transform:scaleX(0.841);">Recent</div><div class="t " style="left:311.60px;top:62px;font-size:9.5px;line-height:9.5px;color:#3b3a39;transform:scaleX(0.830);">sources</div><div class="t " style="left:361.90px;top:51px;font-size:9.5px;line-height:9.5px;color:#3b3a39;transform:scaleX(0.807);">Transform</div><div class="t " style="left:367.30px;top:62px;font-size:9.5px;line-height:9.5px;color:#3b3a39;transform:scaleX(0.805);">data</div><div class="t " style="left:399.78px;top:51px;font-size:9.5px;line-height:9.5px;color:#3b3a39;transform:scaleX(0.816);">Refresh</div><div class="t " style="left:444.61px;top:51px;font-size:9.5px;line-height:9.5px;color:#3b3a39;transform:scaleX(0.894);">New</div><div class="t " style="left:443.30px;top:62px;font-size:9.5px;line-height:9.5px;color:#3b3a39;transform:scaleX(0.854);">visual</div><div class="t " style="left:473.60px;top:51px;font-size:9.5px;line-height:9.5px;color:#3b3a39;transform:scaleX(0.835);">Text</div><div class="t " style="left:474.60px;top:62px;font-size:9.5px;line-height:9.5px;color:#3b3a39;transform:scaleX(0.880);">box</div><div class="t " style="left:501.34px;top:51px;font-size:9.5px;line-height:9.5px;color:#3b3a39;transform:scaleX(0.960);">More</div><div class="t " style="left:495.80px;top:62px;font-size:9.5px;line-height:9.5px;color:#3b3a39;transform:scaleX(0.814);">visuals</div><div class="t " style="left:548.50px;top:51px;font-size:9.5px;line-height:9.5px;color:#3b3a39;transform:scaleX(0.900);">New</div><div class="t " style="left:541.67px;top:62px;font-size:9.5px;line-height:9.5px;color:#3b3a39;transform:scaleX(0.831);">measure</div><div class="t " style="left:580.60px;top:51px;font-size:9.5px;line-height:9.5px;color:#3b3a39;transform:scaleX(0.875);">Quick</div><div class="t " style="left:575.06px;top:62px;font-size:9.5px;line-height:9.5px;color:#3b3a39;transform:scaleX(0.844);">measure</div><div class="t " style="left:619.54px;top:51px;font-size:9.5px;line-height:9.5px;color:#a19f9d;transform:scaleX(0.862);">Sensitivity</div><div class="t " style="left:670.34px;top:51px;font-size:9.5px;line-height:9.5px;color:#3b3a39;transform:scaleX(0.863);">Publish</div><div class="t " style="left:40.50px;top:78px;font-size:8.1px;line-height:8.1px;color:#605e5c;transform:scaleX(0.856);">Clipboard</div><div class="t " style="left:224.10px;top:78px;font-size:8.1px;line-height:8.1px;color:#605e5c;transform:scaleX(0.900);">Data</div><div class="t " style="left:382.60px;top:78px;font-size:8.1px;line-height:8.1px;color:#605e5c;transform:scaleX(0.821);">Queries</div><div class="t " style="left:475.76px;top:78px;font-size:8.1px;line-height:8.1px;color:#605e5c;transform:scaleX(0.842);">Insert</div><div class="t " style="left:556.40px;top:78px;font-size:8.1px;line-height:8.1px;color:#605e5c;transform:scaleX(0.818);">Calculations</div><div class="t " style="left:622.64px;top:78px;font-size:8.1px;line-height:8.1px;color:#605e5c;transform:scaleX(0.860);">Sensitivity</div><div class="t " style="left:674.75px;top:78px;font-size:8.1px;line-height:8.1px;color:#605e5c;transform:scaleX(0.845);">Share</div><div class="t md3" style="left:173.21px;top:110px;font-size:15.5px;line-height:15.5px;color:#c00a2a;font-weight:700;transform:scaleX(0.991);">DEMO</div><div class="t md3" style="left:174.20px;top:130px;font-size:10.4px;line-height:10.4px;color:#c00a2a;font-weight:700;transform:scaleX(1.015);">Creating filters with Power Apps</div><div class="t md" style="left:52.50px;top:171px;font-size:9.1px;line-height:9.1px;color:#252423;letter-spacing:0.802px;transform:scaleX(0.900);">Sales by CustomerID</div><div class="t " style="left:58.10px;top:201px;font-size:7.5px;line-height:7.5px;color:#777777;">7</div><div class="t " style="left:58.10px;top:222px;font-size:7.5px;line-height:7.5px;color:#777777;">4</div><div class="t " style="left:58.10px;top:243px;font-size:7.5px;line-height:7.5px;color:#777777;">3</div><div class="t " style="left:58.10px;top:265px;font-size:7.5px;line-height:7.5px;color:#777777;">2</div><div class="t " style="left:54.10px;top:286px;font-size:7.5px;line-height:7.5px;color:#777777;">10</div><div class="t " style="left:58.10px;top:307px;font-size:7.5px;line-height:7.5px;color:#777777;">5</div><div class="t " style="left:58.10px;top:328px;font-size:7.5px;line-height:7.5px;color:#777777;">8</div><div class="t " style="left:58.10px;top:349px;font-size:7.5px;line-height:7.5px;color:#777777;">6</div><div class="t " style="left:58.10px;top:371px;font-size:7.5px;line-height:7.5px;color:#777777;">1</div><div class="t " style="left:58.10px;top:392px;font-size:7.5px;line-height:7.5px;color:#777777;">9</div><div class="t " style="left:305.60px;top:201px;font-size:7.2px;line-height:7.2px;color:#f4f8e0;">3.1M</div><div class="t " style="left:303.10px;top:222px;font-size:7.2px;line-height:7.2px;color:#f4f8e0;">3.1M</div><div class="t " style="left:324.81px;top:243px;font-size:7.2px;line-height:7.2px;color:#777777;transform:scaleX(0.987);">3.0M</div><div class="t " style="left:319.21px;top:264px;font-size:7.2px;line-height:7.2px;color:#777777;transform:scaleX(0.987);">3.0M</div><div class="t " style="left:313.00px;top:286px;font-size:7.2px;line-height:7.2px;color:#777777;transform:scaleX(0.925);">2.9M</div><div class="t " style="left:308.40px;top:307px;font-size:7.2px;line-height:7.2px;color:#777777;transform:scaleX(0.925);">2.8M</div><div class="t " style="left:305.00px;top:328px;font-size:7.2px;line-height:7.2px;color:#777777;transform:scaleX(0.925);">2.8M</div><div class="t " style="left:293.40px;top:349px;font-size:7.2px;line-height:7.2px;color:#777777;transform:scaleX(0.925);">2.6M</div><div class="t " style="left:285.90px;top:370px;font-size:7.2px;line-height:7.2px;color:#777777;transform:scaleX(0.925);">2.5M</div><div class="t " style="left:263.60px;top:392px;font-size:7.2px;line-height:7.2px;color:#777777;transform:scaleX(0.925);">2.3M</div><div class="t " style="left:63.00px;top:415px;font-size:7.2px;line-height:7.2px;color:#777777;transform:scaleX(0.980);">0M</div><div class="t " style="left:146.11px;top:415px;font-size:7.2px;line-height:7.2px;color:#777777;transform:scaleX(1.089);">1M</div><div class="t " style="left:230.60px;top:415px;font-size:7.2px;line-height:7.2px;color:#777777;transform:scaleX(0.980);">2M</div><div class="t " style="left:313.41px;top:415px;font-size:7.2px;line-height:7.2px;color:#777777;transform:scaleX(1.089);">3M</div><div class="t md" style="left:409.90px;top:171px;font-size:9.3px;line-height:9.3px;color:#252423;letter-spacing:0.733px;transform:scaleX(0.900);">Sales Total</div><div class="t md" style="left:560.80px;top:171px;font-size:9.3px;line-height:9.3px;color:#252423;letter-spacing:0.889px;transform:scaleX(0.900);">Customers</div><div class="t md" style="left:792.30px;top:99px;font-size:11px;line-height:11px;color:#252423;transform:scaleX(1.009);">Visualizations</div><div class="t sb" style="left:913.26px;top:95px;font-size:11.5px;line-height:11.5px;color:#252423;transform:scaleX(0.940);">Fields</div><div class="t " style="left:930.13px;top:123px;font-size:9.5px;line-height:9.5px;color:#323130;transform:scaleX(0.966);">Search</div><div class="t " style="left:936.70px;top:146px;font-size:8.4px;line-height:8.4px;color:#323130;transform:scaleX(0.967);">Customer</div><div class="t " style="left:960.60px;top:163px;font-size:8.4px;line-height:8.4px;color:#605e5c;transform:scaleX(0.956);">CustomerID</div><div class="t " style="left:935.79px;top:179px;font-size:8.4px;line-height:8.4px;color:#323130;transform:scaleX(0.915);">Sales</div><div class="t " style="left:960.60px;top:196px;font-size:8.4px;line-height:8.4px;color:#605e5c;transform:scaleX(0.956);">CustomerID</div><div class="t " style="left:960.60px;top:212px;font-size:8.4px;line-height:8.4px;color:#323130;transform:scaleX(0.914);">Value</div><div class="t " style="left:792.70px;top:265px;font-size:8.5px;line-height:8.5px;color:#323130;transform:scaleX(0.900);">Axis</div><div class="t " style="left:792.40px;top:285px;font-size:8.5px;line-height:8.5px;color:#323130;transform:scaleX(0.956);">CustomerID</div><div class="t " style="left:791.73px;top:312px;font-size:8.5px;line-height:8.5px;color:#323130;transform:scaleX(0.974);">Legend</div><div class="t " style="left:794.70px;top:331px;font-size:8.5px;line-height:8.5px;color:#323130;transform:scaleX(0.957);">Add data fields here</div><div class="t " style="left:792.70px;top:354px;font-size:8.5px;line-height:8.5px;color:#323130;transform:scaleX(0.928);">Values</div><div class="t " style="left:792.70px;top:373px;font-size:8.5px;line-height:8.5px;color:#323130;transform:scaleX(0.933);">Value</div><div class="t " style="left:791.32px;top:400px;font-size:8.5px;line-height:8.5px;color:#323130;transform:scaleX(0.984);">Small multiples</div><div class="t " style="left:794.70px;top:420px;font-size:8.5px;line-height:8.5px;color:#323130;transform:scaleX(0.957);">Add data fields here</div><div class="t " style="left:792.90px;top:441px;font-size:8.5px;line-height:8.5px;color:#323130;transform:scaleX(0.966);">Tooltips</div><div class="t " style="left:794.70px;top:461px;font-size:8.5px;line-height:8.5px;color:#323130;transform:scaleX(0.957);">Add data fields here</div><div class="t sb" style="left:793.36px;top:486px;font-size:11.5px;line-height:11.5px;color:#252423;transform:scaleX(1.043);">Drill through</div><div class="t" style="left:767.6px;top:145.5px;font-size:10.9px;line-height:10.9px;color:#252423;-webkit-text-stroke:0.3px #252423;transform:rotate(90deg) translate(0,-9.3px);transform-origin:0 0">Filters</div></body></html>
